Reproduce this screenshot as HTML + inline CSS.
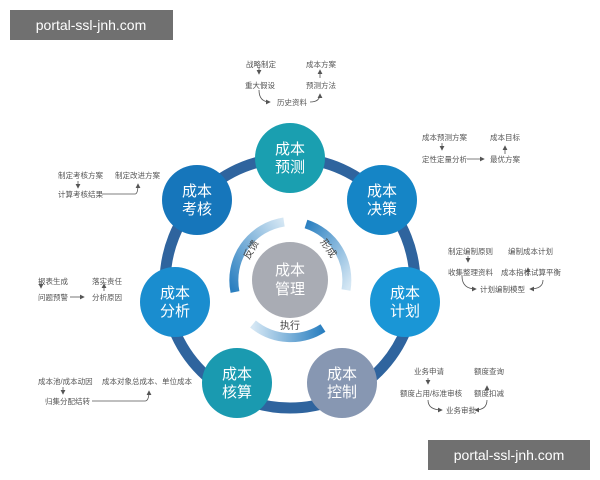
<!DOCTYPE html>
<html><head><meta charset="utf-8"><style>
body{margin:0;background:#fff;}
svg{display:block;font-family:"Liberation Sans","Noto Sans CJK SC",sans-serif;}
.s{font-size:7.5px;fill:#555;}
.n{font-size:15px;fill:#fff;text-anchor:middle;}
</style></head><body>
<svg width="600" height="480" viewBox="0 0 600 480">
<defs>
<marker id="a" markerWidth="6" markerHeight="6" refX="5" refY="3" orient="auto"><path d="M0,0L6,3L0,6z" fill="#555"/></marker>
<linearGradient id="g1" x1="0" y1="1" x2="1" y2="0"><stop offset="0" stop-color="#2a7fc0"/><stop offset="1" stop-color="#d5e7f4"/></linearGradient>
<linearGradient id="g2" x1="0" y1="0" x2="1" y2="1"><stop offset="0" stop-color="#2a7fc0"/><stop offset="1" stop-color="#d5e7f4"/></linearGradient>
<linearGradient id="g3" x1="1" y1="0" x2="0" y2="0"><stop offset="0" stop-color="#2a7fc0"/><stop offset="1" stop-color="#d5e7f4"/></linearGradient>
</defs>
<rect width="600" height="480" fill="#fff"/>
<circle cx="290" cy="283" r="125" fill="none" stroke="#2f649e" stroke-width="11"/>
<path d="M235,292 A59,59 0 0 1 284,222" fill="none" stroke="url(#g1)" stroke-width="9"/>
<path d="M306,224 A59,59 0 0 1 346,290" fill="none" stroke="url(#g2)" stroke-width="9"/>
<path d="M323,328 A59,59 0 0 1 253,324" fill="none" stroke="url(#g3)" stroke-width="9"/>
<circle cx="290" cy="280" r="38" fill="#a9acb4"/>
<text class="n" x="290" y="275" font-size="14">成本</text><text class="n" x="290" y="294" font-size="14">管理</text>
<text x="249" y="260" font-size="10" fill="#444" transform="rotate(-60 249 260)">反馈</text>
<text x="320" y="242" font-size="10" fill="#444" transform="rotate(55 320 242)">形成</text>
<text x="280" y="329" font-size="10" fill="#444">执行</text>
<g>
<circle cx="290" cy="158" r="35" fill="#1a9fb0"/><text class="n" x="290" y="154">成本</text><text class="n" x="290" y="172">预测</text>
<circle cx="382" cy="200" r="35" fill="#1585c6"/><text class="n" x="382" y="196">成本</text><text class="n" x="382" y="214">决策</text>
<circle cx="405" cy="302" r="35" fill="#1a96d6"/><text class="n" x="405" y="298">成本</text><text class="n" x="405" y="316">计划</text>
<circle cx="342" cy="383" r="35" fill="#8797b2"/><text class="n" x="342" y="379">成本</text><text class="n" x="342" y="397">控制</text>
<circle cx="237" cy="383" r="35" fill="#1a9ab0"/><text class="n" x="237" y="379">成本</text><text class="n" x="237" y="397">核算</text>
<circle cx="175" cy="302" r="35" fill="#1a8dcf"/><text class="n" x="175" y="298">成本</text><text class="n" x="175" y="316">分析</text>
<circle cx="197" cy="200" r="35" fill="#1676bb"/><text class="n" x="197" y="196">成本</text><text class="n" x="197" y="214">考核</text>
</g>
<g stroke="#555" stroke-width="0.8" fill="none" marker-end="url(#a)">
<path d="M259,67V74"/><path d="M320,78V70"/><path d="M259,90Q259,102 270,102"/><path d="M310,102Q320,102 320,94"/>
<path d="M442,143V150"/><path d="M467,159H484"/><path d="M505,154V146"/>
<path d="M78,181V188"/><path d="M102,194H135Q138,194 138,184"/>
<path d="M41,281V288"/><path d="M70,297H84"/><path d="M104,291V284"/>
<path d="M63,387V394"/><path d="M92,401H145Q149,401 149,391"/>
<path d="M468,256V262"/><path d="M528,276V268"/><path d="M462,276Q462,289 476,289"/><path d="M543,280Q543,289 530,289"/>
<path d="M428,378V384"/><path d="M487,393V386"/><path d="M428,400Q428,410 442,410"/><path d="M487,400Q487,410 475,410"/>
</g>
<g class="s">
<text x="246" y="67">战略制定</text><text x="306" y="67">成本方案</text>
<text x="245" y="88">重大假设</text><text x="306" y="88">预测方法</text>
<text x="277" y="105">历史资料</text>
<text x="422" y="140">成本预测方案</text><text x="490" y="140">成本目标</text>
<text x="422" y="162">定性定量分析</text><text x="490" y="162">最优方案</text>
<text x="58" y="178">制定考核方案</text><text x="115" y="178">制定改进方案</text>
<text x="58" y="197">计算考核结果</text>
<text x="38" y="284">报表生成</text><text x="92" y="284">落实责任</text>
<text x="38" y="300">问题预警</text><text x="92" y="300">分析原因</text>
<text x="38" y="384">成本池/成本动因</text><text x="102" y="384">成本对象总成本、单位成本</text>
<text x="45" y="404">归集分配结转</text>
<text x="448" y="254">制定编制原则</text><text x="508" y="254">编制成本计划</text>
<text x="448" y="275">收集整理资料</text><text x="501" y="275">成本指标试算平衡</text>
<text x="480" y="292">计划编制模型</text>
<text x="414" y="374">业务申请</text><text x="474" y="374">额度查询</text>
<text x="400" y="396">额度占用/标准审核</text><text x="474" y="396">额度扣减</text>
<text x="446" y="413">业务审批</text>
</g>
<rect x="10" y="10" width="163" height="30" fill="#707070"/>
<text x="91" y="30" font-size="14" fill="#fff" text-anchor="middle">portal-ssl-jnh.com</text>
<rect x="428" y="440" width="162" height="30" fill="#707070"/>
<text x="509" y="460" font-size="14" fill="#fff" text-anchor="middle">portal-ssl-jnh.com</text>
</svg>
</body></html>
